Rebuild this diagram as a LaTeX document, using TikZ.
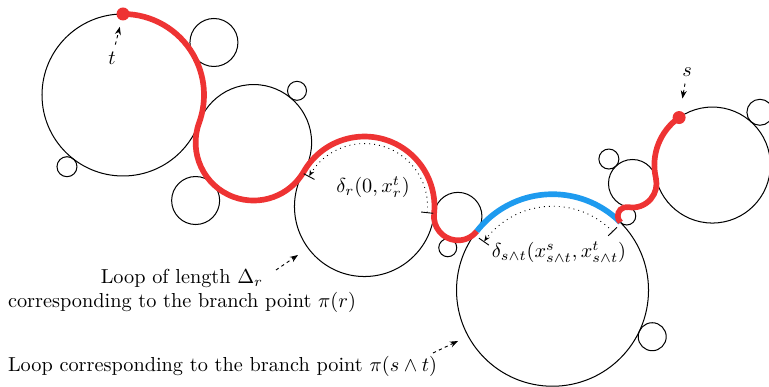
\documentclass[tikz,border=0pt]{standalone}
\usepackage{amsmath,amssymb}
\usepackage{tikz}
\usetikzlibrary{arrows.meta, calc}
\definecolor{loopred}{HTML}{EE3333}
\definecolor{loopblue}{HTML}{1E9BEF}

\begin{document}
\begin{tikzpicture}[x=0.4933pt, y=0.4933pt,
  loopline/.style={black, line width=0.5pt},
  trail/.style={loopred, line width=2.8pt},
  spine/.style={loopblue, line width=2.8pt},
  pointer/.style={black, line width=0.45pt, dash pattern=on 1.6pt off 1.6pt, -{Stealth[length=4pt, width=3pt]}},
  span/.style={black, line width=0.45pt, dotted, {Bar[width=6pt]}-{Stealth[length=3pt, width=2.4pt]Bar[width=6pt]}}]
  \useasboundingbox (0,0) rectangle (769,387);

  % main chain of loops, each one tangent to the next
  \coordinate (c1) at (123,292);
  \coordinate (c2) at ($(c1)+(-20:139)$);
  \coordinate (c7) at ($(c2)+(-30:128)$);
  \coordinate (c8) at ($(c7)+(-6:94)$);
  \coordinate (c10) at ($(c8)+(-38:120)$);
  \coordinate (c12) at ($(c10)+(45:105)$);
  \coordinate (c13) at ($(c12)+(80:33)$);
  \coordinate (c15) at ($(c13)+(13:82)$);
  % side loops
  \coordinate (c3) at ($(c1)+(232:91)$);
  \coordinate (c4) at ($(c1)+(30:105)$);
  \coordinate (c5) at ($(c2)+(50:67.5)$);
  \coordinate (c6) at ($(c2)+(225:82)$);
  \coordinate (c9) at ($(c8)+(252:33)$);
  \coordinate (c11) at ($(c10)+(-25:110)$);
  \coordinate (c14) at ($(c13)+(134:34)$);
  \coordinate (c16) at ($(c15)+(48:71)$);

  \draw[loopline] (c1) circle[radius=81];
  \draw[loopline] (c2) circle[radius=58];
  \draw[loopline] (c7) circle[radius=70];
  \draw[loopline] (c8) circle[radius=24];
  \draw[loopline] (c10) circle[radius=96];
  \draw[loopline] (c12) circle[radius=9];
  \draw[loopline] (c13) circle[radius=24];
  \draw[loopline] (c15) circle[radius=58];
  \draw[loopline] (c3) circle[radius=10];
  \draw[loopline] (c4) circle[radius=24];
  \draw[loopline] (c5) circle[radius=9.5];
  \draw[loopline] (c6) circle[radius=24];
  \draw[loopline] (c9) circle[radius=9];
  \draw[loopline] (c11) circle[radius=14];
  \draw[loopline] (c14) circle[radius=10];
  \draw[loopline] (c16) circle[radius=13];

  % geodesic from t to s
  \coordinate (tdot) at ($(c1)+(90:81)$);
  \coordinate (sdot) at ($(c15)+(125:58)$);
  \draw[trail] (tdot) arc[start angle=90, end angle=-20, radius=81]
    arc[start angle=160, end angle=330, radius=58]
    arc[start angle=150, end angle=-6, radius=70]
    arc[start angle=174, end angle=322, radius=24];
  \draw[spine] ($(c10)+(142:96)$) arc[start angle=142, end angle=45, radius=96];
  \draw[trail] ($(c12)+(225:9)$) arc[start angle=225, end angle=80, radius=9]
    arc[start angle=260, end angle=373, radius=24]
    arc[start angle=193, end angle=125, radius=58];
  \fill[loopred] (tdot) circle[radius=6.5];
  \fill[loopred] (sdot) circle[radius=6.5];

  \draw[span] ($(c7)+(-6:63)$) arc[start angle=-6, end angle=152, radius=63];
  \draw[span] ($(c10)+(44:84)$) arc[start angle=44, end angle=145, radius=84];
  \node (deltar) at (373,200) {$\delta_r(0,x_r^t)$};
  \node (deltast) at (559,135) {$\delta_{s\wedge t}(x^s_{s\wedge t},x^t_{s\wedge t})$};

  \node (tlab) at (112,329) {$t$};
  \node (slab) at (687,315) {$s$};
  \draw[pointer, shorten >=6.5pt] (tlab) -- (tdot);
  \draw[pointer, shorten >=9.5pt] (slab) -- (sdot);

  \node[align=center] (looprlab) at (182,96) {Loop of length $\Delta_r$\\corresponding to the branch point $\pi(r)$};
  \node (loopstlab) at (222.5,21) {Loop corresponding to the branch point $\pi(s\wedge t)$};
  \coordinate (rtail) at (276,117);
  \coordinate (rhead) at (298,132);
  \coordinate (sttail) at (433,34);
  \coordinate (sthead) at (458,46);
  \draw[pointer] (rtail) -- (rhead);
  \draw[pointer] (sttail) -- (sthead);
\end{tikzpicture}
\end{document}
